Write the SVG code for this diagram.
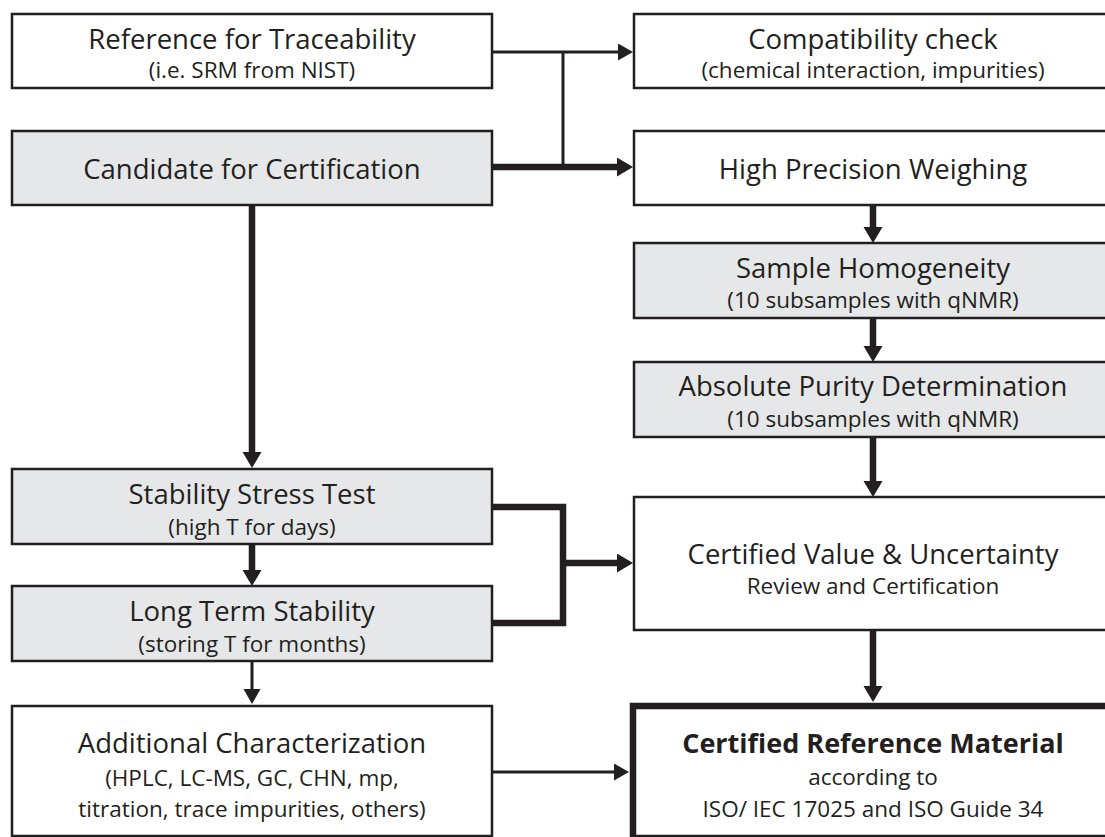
<svg xmlns="http://www.w3.org/2000/svg" width="1105" height="837" viewBox="0 0 1105 837">
<style>
.box{fill:#ffffff;stroke:#231f20;stroke-width:2.5}
.gray{fill:#e6e7e8}
.crm{fill:#ffffff;stroke:#231f20;stroke-width:6.5}
.t{font-family:"Open Sans","Noto Sans",sans-serif;font-size:27.5px;fill:#231f20;text-anchor:middle}
.s{font-family:"Open Sans","Noto Sans",sans-serif;font-size:22.5px;fill:#231f20;text-anchor:middle}
.b{font-weight:bold;font-size:27px}
.thin{fill:none;stroke:#231f20;stroke-width:3}
.thick{fill:none;stroke:#231f20;stroke-width:6.5}
</style>
<defs>
<marker id="ah" markerUnits="userSpaceOnUse" markerWidth="18" markerHeight="20" refX="2" refY="9.5" orient="auto"><path d="M0,0 L16,9.5 L0,19 z" fill="#231f20"/></marker>
<marker id="ahs" markerUnits="userSpaceOnUse" markerWidth="18" markerHeight="20" refX="2" refY="8.5" orient="auto"><path d="M0,0 L15,8.5 L0,17 z" fill="#231f20"/></marker>
</defs>
<g id="connectors">
<path class="thin" d="M492,52 H620" marker-end="url(#ahs)"/>
<path class="thin" d="M563,52 V167"/>
<path class="thick" d="M492,167 H619" marker-end="url(#ah)"/>
<path class="thick" d="M252,205 V454" marker-end="url(#ah)"/>
<path class="thick" d="M252,544 V572" marker-end="url(#ah)"/>
<path class="thin" d="M252,661 V691" marker-end="url(#ahs)"/>
<path class="thick" d="M873,205 V229" marker-end="url(#ah)"/>
<path class="thick" d="M873,318 V348" marker-end="url(#ah)"/>
<path class="thick" d="M873,437 V483" marker-end="url(#ah)"/>
<path class="thick" d="M873,630 V688" marker-end="url(#ah)"/>
<path class="thick" d="M492,507 H563 V623 H492"/>
<path class="thick" d="M563,563 H619" marker-end="url(#ah)"/>
<path class="thin" d="M492,772 H616" marker-end="url(#ahs)"/>
</g>
<g id="ref"><rect class="box" x="12" y="14" width="480" height="74"/><text class="t" x="252" y="49">Reference for Traceability</text><text class="s" x="252" y="78">(i.e. SRM from NIST)</text></g>
<g id="cand"><rect class="box gray" x="12" y="131" width="480" height="74"/><text class="t" x="252" y="179">Candidate for Certification</text></g>
<g id="compat"><rect class="box" x="634" y="14" width="480" height="74"/><text class="t" x="873" y="49">Compatibility check</text><text class="s" x="873" y="78">(chemical interaction, impurities)</text></g>
<g id="hpw"><rect class="box" x="634" y="131" width="480" height="74"/><text class="t" x="873" y="179">High Precision Weighing</text></g>
<g id="homog"><rect class="box gray" x="634" y="243" width="480" height="75"/><text class="t" x="873" y="278">Sample Homogeneity</text><text class="s" x="873" y="308">(10 subsamples with qNMR)</text></g>
<g id="purity"><rect class="box gray" x="634" y="362" width="480" height="75"/><text class="t" x="873" y="396">Absolute Purity Determination</text><text class="s" x="873" y="427">(10 subsamples with qNMR)</text></g>
<g id="stress"><rect class="box gray" x="12" y="469" width="480" height="75"/><text class="t" x="252" y="504">Stability Stress Test</text><text class="s" x="252" y="535">(high T for days)</text></g>
<g id="longterm"><rect class="box gray" x="12" y="586" width="480" height="75"/><text class="t" x="252" y="621">Long Term Stability</text><text class="s" x="252" y="652">(storing T for months)</text></g>
<g id="additional"><rect class="box" x="12" y="706" width="480" height="130"/><text class="t" x="252" y="753">Additional Characterization</text><text class="s" x="252" y="786">(HPLC, LC-MS, GC, CHN, mp,</text><text class="s" x="252" y="817">titration, trace impurities, others)</text></g>
<g id="certval"><rect class="box" x="634" y="497" width="480" height="133"/><text class="t" x="873" y="564">Certified Value &amp; Uncertainty</text><text class="s" x="873" y="594">Review and Certification</text></g>
<g id="crm"><rect class="crm" x="633" y="706" width="480" height="132"/><text class="t b" x="873" y="753">Certified Reference Material</text><text class="s" x="873" y="785">according to</text><text class="s" x="873" y="817">ISO/ IEC 17025 and ISO Guide 34</text></g>
</svg>
